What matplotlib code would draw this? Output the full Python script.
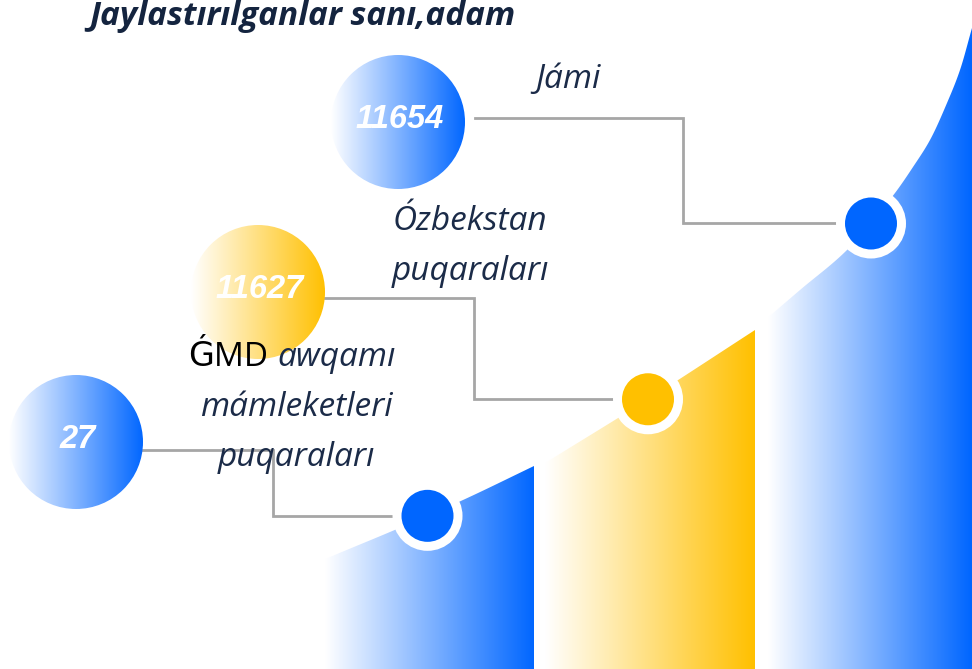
import numpy as np
import matplotlib
matplotlib.use("Agg")
import matplotlib.pyplot as plt
from matplotlib.colors import LinearSegmentedColormap
from matplotlib.patches import Circle, Polygon

# ---- data ----
title = "Jaylastırılganlar sanı,adam"
values = [27, 11627, 11654]
value_labels = ["27", "11627", "11654"]
categories = ["ǴMD awqamı\nmámleketleri\npuqaraları", "Ózbekstan\npuqaraları", "Jámi"]
colors = ["#0066FF", "#FFC000", "#0066FF"]

# ---- layout (pixel space, decorative geometry) ----
W, H = 972, 669
bar_x0 = [325, 545, 768]
bar_x1 = [534, 755, 972]
dot_shift = [-2, -2, 1]
# guide points of the rising decorative outline, one set per bar
guide_x = [[300, 330, 397, 463, 534],
           [545, 650, 755],
           [765, 800, 847, 895, 913, 930, 947, 960, 972]]
guide_y = [[570, 557, 529, 500, 466],
           [463, 398, 330],
           [320, 290, 250, 193, 167, 140, 103, 70, 28]]
bubble_c = [(76, 442), (258, 292), (398, 122)]
bubble_r = 67
elbow_x = [273, 474, 683]
line_y = [450, 298, 118]

navy = "#1b2b48"
grey = "#a6a6a6"

fig = plt.figure(figsize=(W / 100, H / 100), dpi=100)
ax = fig.add_axes([0, 0, 1, 1])
ax.set_xlim(0, W)
ax.set_ylim(H, 0)
ax.axis("off")

def cmap_for(c, start="#ffffff"):
    return LinearSegmentedColormap.from_list("g", [start, c])

grad = np.linspace(0, 1, 256).reshape(1, -1)

def pchip(xk, yk, x):
    xk = np.asarray(xk, float); yk = np.asarray(yk, float)
    h = np.diff(xk); d = np.diff(yk) / h
    n = len(xk)
    m = np.zeros(n)
    if n == 2:
        m[:] = d[0]
    else:
        for k in range(1, n - 1):
            if d[k - 1] * d[k] <= 0:
                m[k] = 0
            else:
                w1 = 2 * h[k] + h[k - 1]; w2 = h[k] + 2 * h[k - 1]
                m[k] = (w1 + w2) / (w1 / d[k - 1] + w2 / d[k])
        m[0] = d[0]; m[-1] = d[-1]
    x = np.asarray(x, float)
    idx = np.clip(np.searchsorted(xk, x) - 1, 0, n - 2)
    t = (x - xk[idx]) / h[idx]
    h00 = 2 * t**3 - 3 * t**2 + 1; h10 = t**3 - 2 * t**2 + t
    h01 = -2 * t**3 + 3 * t**2; h11 = t**3 - t**2
    return h00 * yk[idx] + h10 * h[idx] * m[idx] + h01 * yk[idx + 1] + h11 * h[idx] * m[idx + 1]

def curve(i, x):
    return pchip(guide_x[i], guide_y[i], x)

# bars
for i, v in enumerate(values):
    x0, x1 = bar_x0[i], bar_x1[i]
    xs = np.linspace(x0, x1, 400)
    ys = curve(i, xs)
    pts = [(x0, H)] + list(zip(xs, ys)) + [(x1, H)]
    poly = Polygon(pts, closed=True, facecolor="none", edgecolor="none")
    ax.add_patch(poly)
    im = ax.imshow(grad, cmap=cmap_for(colors[i]), aspect="auto",
                   extent=(x0, x1, H, float(ys.min())), zorder=1)
    im.set_clip_path(poly)

# dots on curve + connectors
for i, v in enumerate(values):
    cx = (bar_x0[i] + bar_x1[i]) / 2 + dot_shift[i]
    cy = float(curve(i, cx))
    bx, by = bubble_c[i]
    ly = line_y[i]
    ax.plot([bx + bubble_r + (10 if i == 2 else 0), elbow_x[i], elbow_x[i], cx], [ly, ly, cy, cy],
            color=grey, lw=2, zorder=2, solid_joinstyle="miter")
    ax.add_patch(Circle((cx, cy), 35, facecolor="white", edgecolor="none", zorder=3))
    ax.add_patch(Circle((cx, cy), 26, facecolor=colors[i], edgecolor="none", zorder=4))

# bubbles
for i, v in enumerate(values):
    bx, by = bubble_c[i]
    circ = Circle((bx, by), bubble_r, facecolor="none", edgecolor="none")
    ax.add_patch(circ)
    im = ax.imshow(grad, cmap=cmap_for(colors[i], "#ffffff"), aspect="auto",
                   extent=(bx - bubble_r, bx + bubble_r, by + bubble_r, by - bubble_r), zorder=5)
    im.set_clip_path(circ)
    ax.text(bx + 2, by - 2, value_labels[i], color="white", fontsize=23.5, fontweight="bold",
            fontstyle="italic", family=["Liberation Sans", "DejaVu Sans"],
            ha="center", va="center", zorder=6)

fam = ["Open Sans", "DejaVu Sans"]
fs = 24
# title
ax.text(302, 25, title, color="#14243f", fontsize=24, fontweight="bold", fontstyle="italic",
        family=fam, ha="center", va="baseline", zorder=7)

# labels
ax.text(568, 80, categories[2], color=navy, fontsize=fs, fontstyle="italic", family=fam,
        ha="center", va="center", zorder=7)
for k, line in enumerate(categories[1].split("\n")):
    ax.text(470, 222 + k * 49, line, color=navy, fontsize=fs, fontstyle="italic", family=fam,
            ha="center", va="center", zorder=7)
lines0 = categories[0].split("\n")
first, rest = lines0[0].split(" ", 1)
ax.text(268, 357, first, color="black", fontsize=fs, family=fam, ha="right", va="center", zorder=7)
ax.text(277, 357, rest, color=navy, fontsize=fs, fontstyle="italic", family=fam,
        ha="left", va="center", zorder=7)
for k, line in enumerate(lines0[1:]):
    ax.text(296, 407 + k * 50, line, color=navy, fontsize=fs, fontstyle="italic", family=fam,
            ha="center", va="center", zorder=7)

fig.savefig("out.png", dpi=100, facecolor="white")
